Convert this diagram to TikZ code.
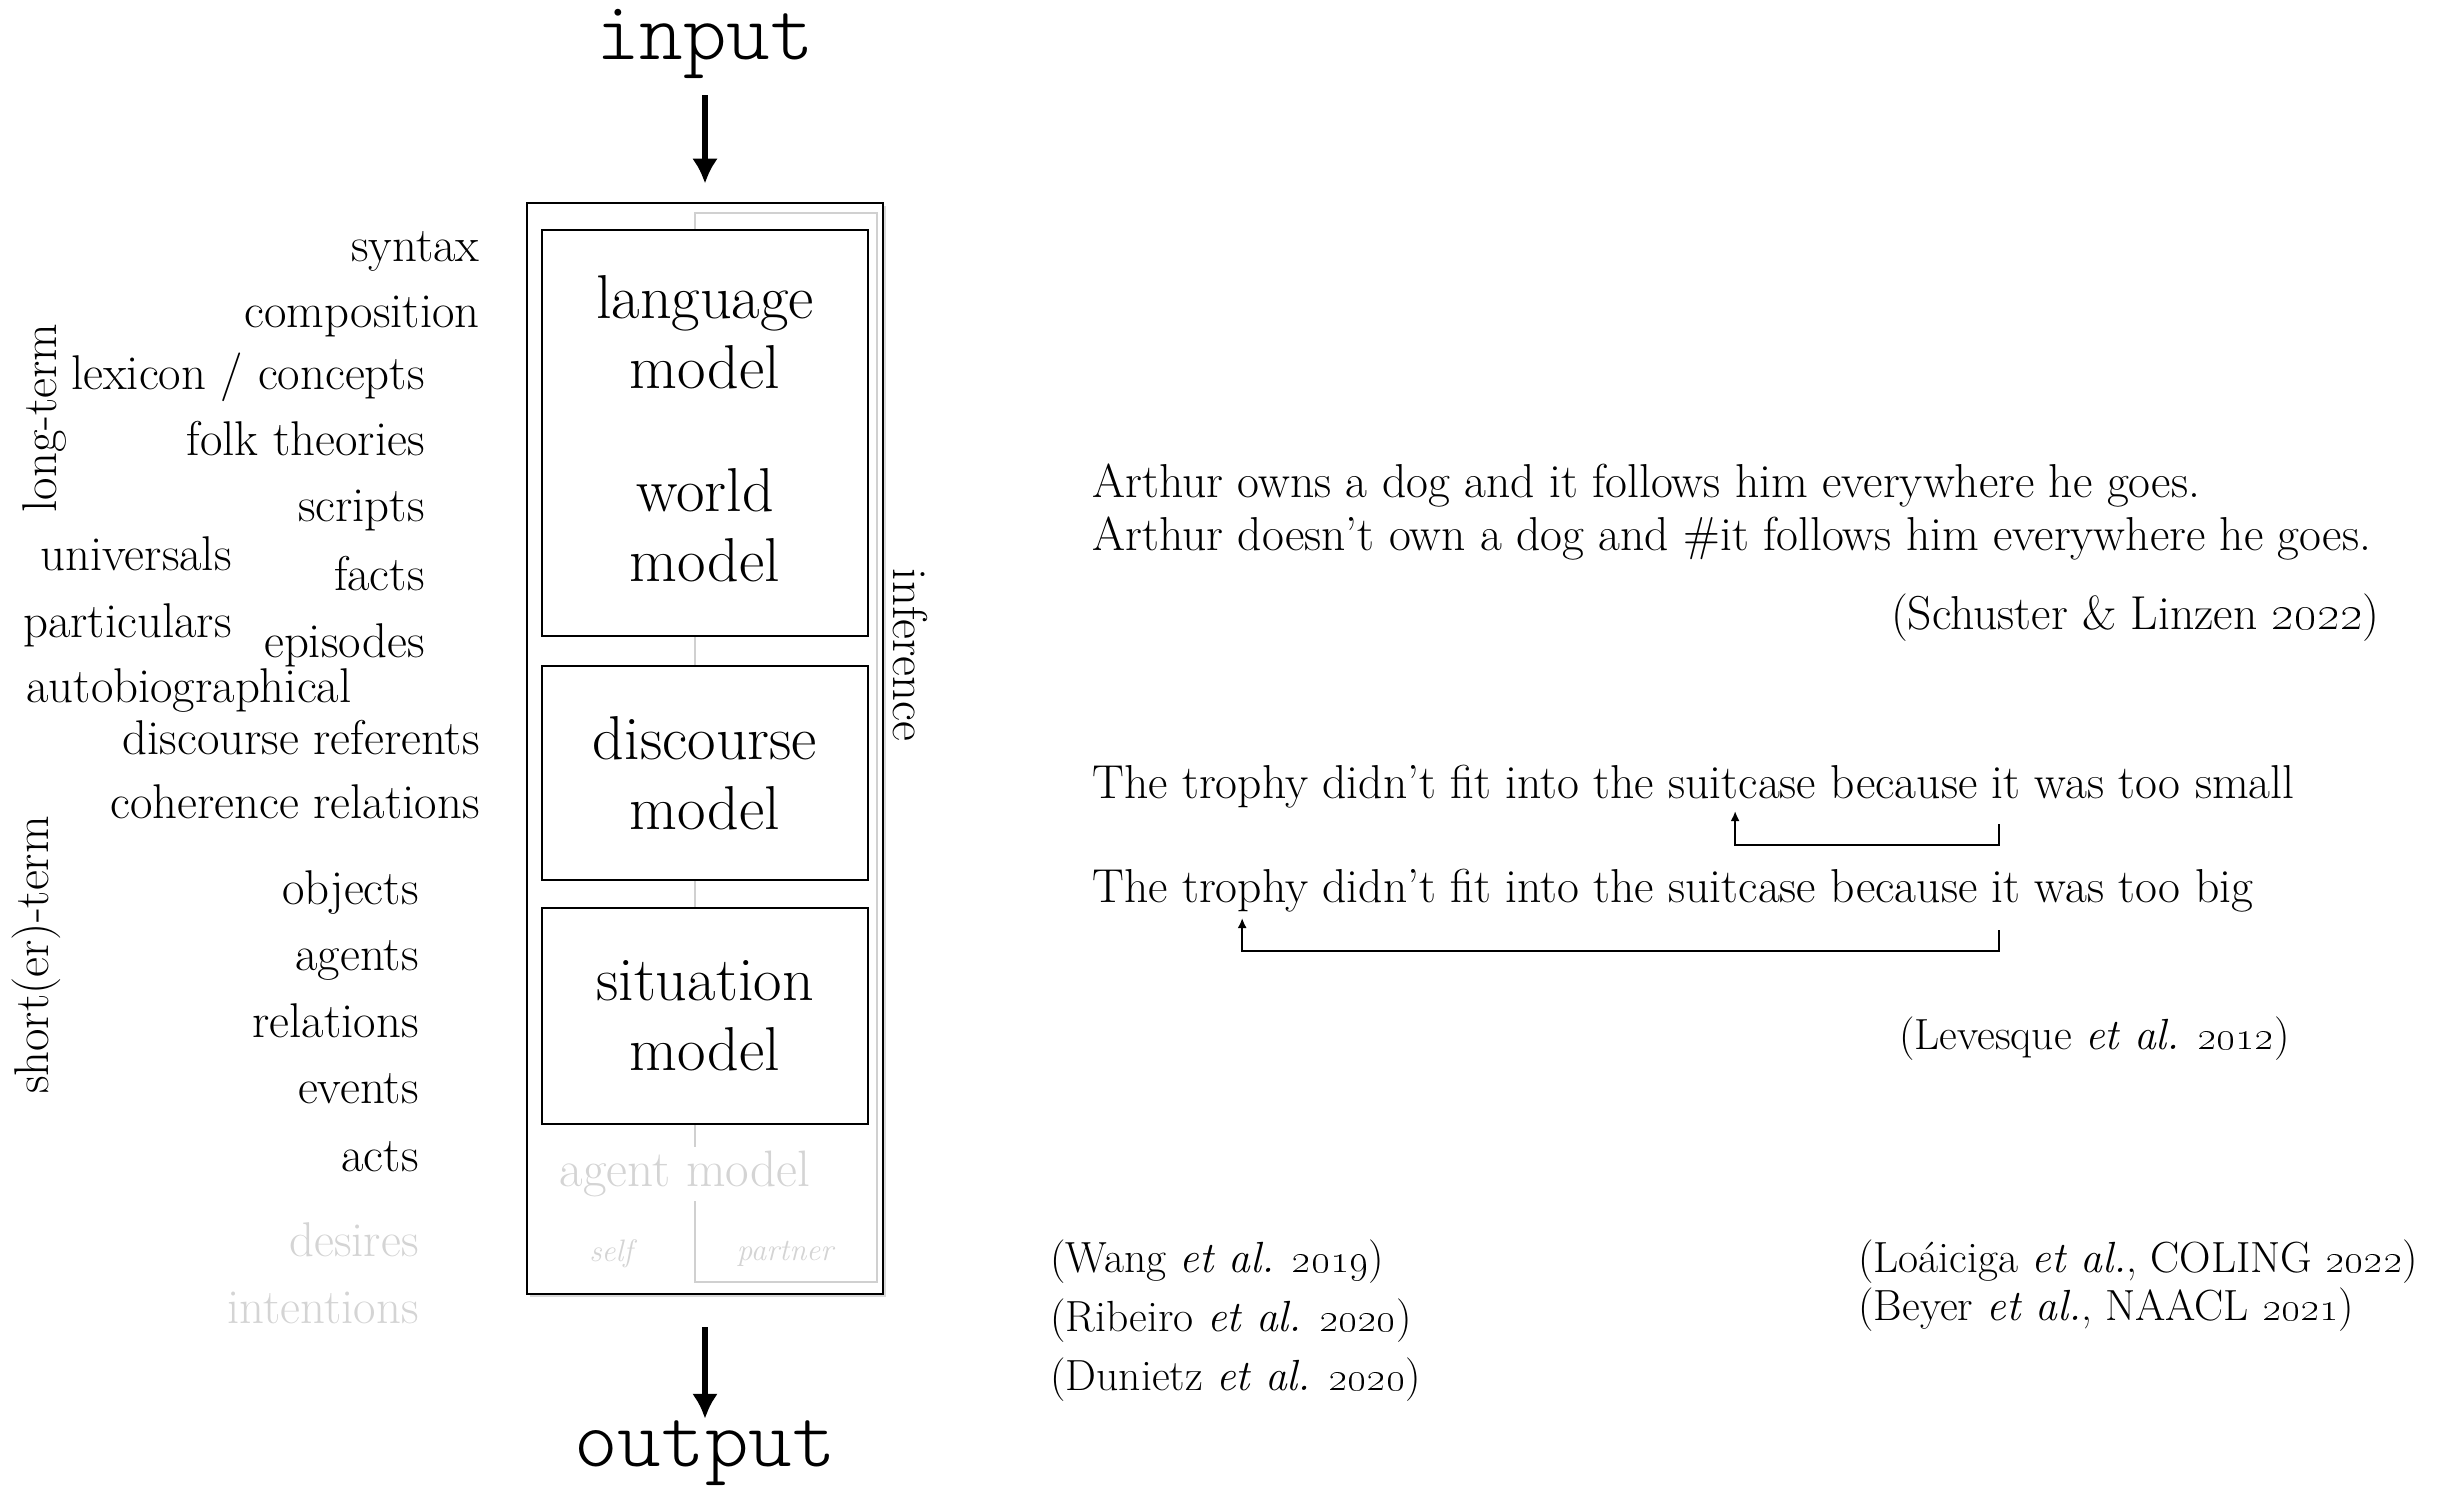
\documentclass[tikz,border=0pt]{standalone}
\usetikzlibrary{arrows.meta,shadows}
\definecolor{lightg}{HTML}{D4D4D4}
\definecolor{frameg}{HTML}{D0D0D0}
\begin{document}
\begin{tikzpicture}[x=0.5pt,y=-0.5pt,
  lbl/.style={font=\fontsize{24.4}{29}\selectfont, inner sep=0pt},
  lblr/.style={lbl, anchor=base east},
  lbll/.style={lbl, anchor=base west},
  rt/.style={font=\fontsize{21.8}{26}\selectfont, inner sep=0pt, anchor=base west},
  rtr/.style={rt, anchor=base east},
  sent/.style={font=\fontsize{23.8}{28}\selectfont, inner sep=0pt, anchor=base west},
  faint/.style={text=lightg},
  mbox/.style={draw, line width=1.1pt, fill=white, inner sep=0pt, minimum width=163pt},
  boxtxt/.style={font=\fontsize{31}{35}\selectfont, align=center},
  io/.style={font=\ttfamily\fontseries{l}\fontsize{41.5}{42}\selectfont, inner sep=0pt, anchor=base},
  flow/.style={line width=3pt, -{Latex[length=12.5pt,width=13pt]}},
  link/.style={line width=1pt, -{Latex[length=5pt,width=4.5pt]}}
]
\useasboundingbox (0,0) rectangle (2451,1486);

% central column
\node[draw, line width=1.4pt, fill=white, minimum width=178pt, minimum height=545.5pt, inner sep=0pt,
  drop shadow={shadow xshift=1.5pt, shadow yshift=-1.5pt, opacity=0.3}] (outer) at (705,748.5) {};
\node[draw=frameg, line width=1.2pt, minimum width=91pt, minimum height=534.5pt, inner sep=0pt] (infbox) at (786,747.5) {};
\node[font=\fontsize{25.6}{30}\selectfont, text=lightg, fill=white, inner sep=2pt] (agent) at (685,1174) {agent model};
\node[font=\itshape\fontsize{15.5}{18}\selectfont, text=lightg] (self) at (611,1254) {self};
\node[font=\itshape\fontsize{15.5}{18}\selectfont, text=lightg] (partner) at (785,1254) {partner};

\node[mbox, minimum height=203pt] (lw) at (705,433) {};
\node[boxtxt] (lang) at (705,332.5) {language\\model};
\node[boxtxt] (world) at (705,525.5) {world\\model};
\node[mbox, boxtxt, minimum height=107pt] (disc) at (705,773) {discourse\\model};
\node[mbox, boxtxt, minimum height=108pt] (sit) at (705,1016) {situation\\model};

\node[lbl, rotate=-90] (inference) at (910,655) {inference};

\node[io] (input) at (705,60) {input};
\node[io] (output) at (705,1466) {output};
\draw[flow, shorten <=8pt, shorten >=9pt] (input.south) -- (outer.north);
\draw[flow, shorten <=16pt, shorten >=0.5pt] (outer.south) -- (output.north);

% left labels
\node[lbl, rotate=90] (longterm) at (45,418) {long-term};
\node[lbl, rotate=90] (shortterm) at (36,955) {short(er)-term};
\node[lblr] (syntax) at (480,262) {syntax};
\node[lblr] (composition) at (480,328) {composition};
\node[lblr] (lexicon) at (425,390) {lexicon / concepts};
\node[lblr] (folk) at (425,456) {folk theories};
\node[lblr] (scripts) at (425,522) {scripts};
\node[lblr] (universals) at (232,571) {universals};
\node[lblr] (facts) at (425,590) {facts};
\node[lblr] (particulars) at (232,637) {particulars};
\node[lblr] (episodes) at (425,657) {episodes};
\node[lbll] (autobio) at (26,702) {autobiographical};
\node[lblr] (discref) at (480,754) {discourse referents};
\node[lblr] (coher) at (480,818) {coherence relations};
\node[lblr] (objects) at (419,904) {objects};
\node[lblr] (agents) at (419,970) {agents};
\node[lblr] (relations) at (419,1037) {relations};
\node[lblr] (events) at (419,1103) {events};
\node[lblr] (acts) at (419,1171) {acts};
\node[lblr, faint] (desires) at (419,1256) {desires};
\node[lblr, faint] (intentions) at (419,1323) {intentions};

% right texts
\node[sent] (arthur1) at (1092,498) {Arthur owns a dog and it follows him everywhere he goes.};
\node[sent] (arthur2) at (1092,551) {Arthur doesn’t own a dog and \#it follows him everywhere he goes.};
\node[sent, anchor=base east] (schuster) at (2380,629) {(Schuster \& Linzen \oldstylenums{2022})};

\node[sent] (tro1) at (1092,798) {The trophy didn’t fit into the suitcase because it was too small};
\node[sent] (tro2) at (1092,902) {The trophy didn’t fit into the suitcase because it was too big};
\node[sent] (h1) at (1088,798) {\phantom{The trophy didn’t fit into the suit}};
\node[sent] (h2) at (1087,798) {\phantom{The trophy didn’t fit into the suitcase because i}};
\node[sent] (h3) at (1096,902) {\phantom{The tro}};
\node[sent] (h4) at (1087,902) {\phantom{The trophy didn’t fit into the suitcase because i}};
\coordinate (a1top) at (0,824);
\coordinate (a1bot) at (0,845);
\coordinate (a1tip) at (0,811);
\coordinate (a2top) at (0,930);
\coordinate (a2bot) at (0,951);
\coordinate (a2tip) at (0,918);
\draw[link] (h2.base east |- a1top) -- (h2.base east |- a1bot) -- (h1.base east |- a1bot) -- (h1.base east |- a1tip);
\draw[link] (h4.base east |- a2top) -- (h4.base east |- a2bot) -- (h3.base east |- a2bot) -- (h3.base east |- a2tip);

\node[rtr] (levesque) at (2290,1049) {(Levesque \textit{et al.} \oldstylenums{2012})};

\node[rt] (wang) at (1050,1272) {(Wang \textit{et al.} \oldstylenums{2019})};
\node[rt] (ribeiro) at (1050,1331) {(Ribeiro \textit{et al.} \oldstylenums{2020})};
\node[rt] (dunietz) at (1050,1390) {(Dunietz \textit{et al.} \oldstylenums{2020})};
\node[rt] (loaiciga) at (1858,1272) {(Loáiciga \textit{et al.}, COLING \oldstylenums{2022})};
\node[rt] (beyer) at (1858,1320) {(Beyer \textit{et al.}, NAACL \oldstylenums{2021})};
\end{tikzpicture}
\end{document}
